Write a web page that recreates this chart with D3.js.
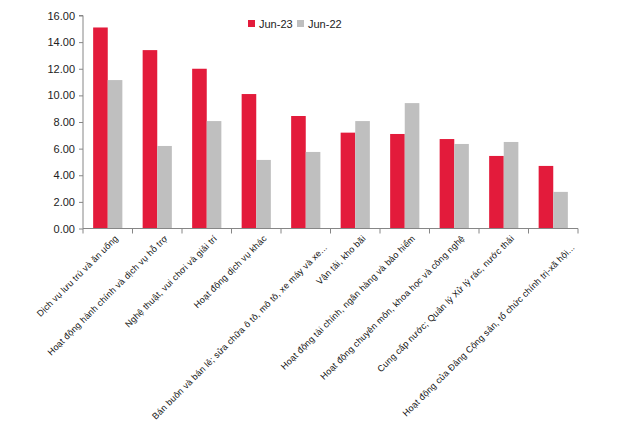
<!DOCTYPE html>
<html>
<head>
<meta charset="utf-8">
<script src="https://cdn.jsdelivr.net/npm/d3@7/dist/d3.min.js"></script>
<style>
body{margin:0;background:#fff;}
svg{display:block;font-family:Arial,"Liberation Sans",sans-serif;}
</style>
</head>
<body>
<svg id="chart" width="622" height="433"></svg>
<script>
const categories = [
  "Dịch vụ lưu trú và ăn uống",
  "Hoạt động hành chính và dịch vụ hỗ trợ",
  "Nghệ thuật, vui chơi và giải trí",
  "Hoạt động dịch vụ khác",
  "Bán buôn và bán lẻ; sửa chữa ô tô, mô tô, xe máy và xe...",
  "Vận tải, kho bãi",
  "Hoạt động tài chính, ngân hàng và bảo hiểm",
  "Hoạt động chuyên môn, khoa học và công nghệ",
  "Cung cấp nước; Quản lý Xử lý rác, nước thải",
  "Hoạt động của Đảng Cộng sản, tổ chức chính trị-xã hội..."
];
const jun23 = [15.1, 13.4, 12.0, 10.1, 8.45, 7.2, 7.1, 6.72, 5.45, 4.7];
const jun22 = [11.15, 6.2, 8.07, 5.15, 5.75, 8.07, 9.42, 6.35, 6.5, 2.75];
const seriesNames = ["Jun-23", "Jun-22"];
const yTicks = [0, 2, 4, 6, 8, 10, 12, 14, 16];

const colors = ["#E31B3B", "#BFBFBF"];
const svg = d3.select("#chart");
const x0 = 83, x1 = 578, yTop = 15.5, yBot = 228.5;

const x = d3.scaleBand().domain(categories).range([x0, x1]).paddingInner(0.41).paddingOuter(0.205);
const xs = d3.scaleBand().domain(seriesNames).range([0, x.bandwidth()]);
const y = d3.scaleLinear().domain([0, 16]).range([yBot, yTop]);

const data = categories.map((c, i) => ({c, vals: [jun23[i], jun22[i]]}));

const g = svg.append("g").selectAll("g").data(data).join("g")
  .attr("transform", d => `translate(${x(d.c)},0)`);
g.selectAll("rect").data(d => d.vals.map((v, j) => ({v, j})))
  .join("rect")
  .attr("x", d => xs(seriesNames[d.j]))
  .attr("width", xs.bandwidth())
  .attr("y", d => y(d.v))
  .attr("height", d => y(0) - y(d.v))
  .attr("fill", d => colors[d.j]);

// y axis
const yAxis = svg.append("g").attr("transform", `translate(${x0},0)`)
  .call(d3.axisLeft(y).tickValues(yTicks).tickFormat(d3.format(".2f")).tickSize(4).tickPadding(4));
yAxis.select(".domain").attr("stroke", "#868686").attr("d", `M-4,${yTop}H0V${yBot}`);
yAxis.selectAll(".tick line").attr("stroke", "#868686");
yAxis.selectAll(".tick text").attr("font-size", "11px").attr("fill", "#222").attr("font-family", "Arial, 'Liberation Sans', sans-serif");

// x axis
const step = x.step();
const tickPos = d3.range(categories.length + 1).map(i => x0 + i * step);
svg.append("line").attr("x1", x0).attr("x2", x1).attr("y1", yBot).attr("y2", yBot).attr("stroke", "#868686");
svg.append("g").selectAll("line").data(tickPos).join("line")
  .attr("x1", d => d).attr("x2", d => d).attr("y1", yBot).attr("y2", yBot + 5).attr("stroke", "#868686");

svg.append("g").selectAll("text").data(categories).join("text")
  .attr("transform", d => {
    const trunc = d.endsWith("...");
    const cx = x(d) + x.bandwidth() / 2 + 11 + (trunc ? 11 : 0);
    const cy = yBot + 10.5 + (trunc ? 9 : 0);
    return `translate(${cx},${cy}) rotate(-45)`;
  })
  .attr("text-anchor", "end")
  .attr("font-size", "9px")
  .attr("letter-spacing", "0.2px")
  .attr("fill", "#111")
  .text(d => d);

// legend
const legend = svg.append("g").selectAll("g").data(seriesNames).join("g")
  .attr("transform", (d, i) => `translate(${248 + i * 49},20)`);
legend.append("rect").attr("width", 7).attr("height", 7).attr("fill", (d, i) => colors[i]);
legend.append("text").attr("x", 11).attr("y", 7.5).attr("font-size", "11px").attr("fill", "#222").text(d => d);
</script>
</body>
</html>
